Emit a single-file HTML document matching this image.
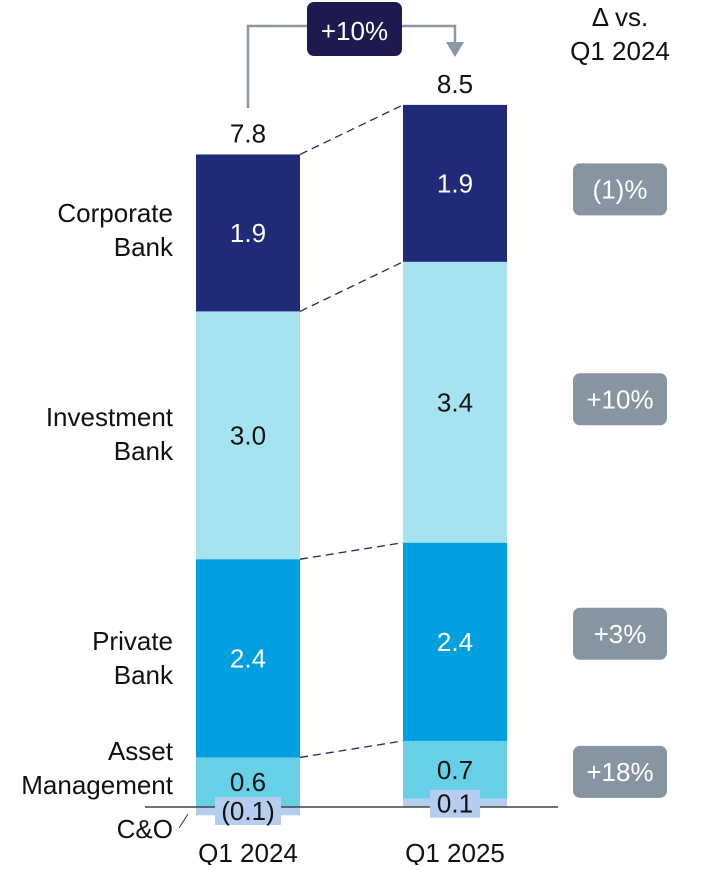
<!DOCTYPE html>
<html><head><meta charset="utf-8"><style>
body{margin:0;background:#fff;}
svg text{font-family:"Liberation Sans",sans-serif;}
</style></head><body>
<svg id="chart" width="715" height="865" viewBox="0 0 715 865" xmlns="http://www.w3.org/2000/svg">
<g id="bars"></g>
<g id="links"></g>
<line x1="145" x2="558" y1="807" y2="807" stroke="#444" stroke-width="1.5"/>
<g id="labels"></g>
<g>
<path d="M248 108 V26 H455 V44" fill="none" stroke="#8c98a4" stroke-width="2.5"/>
<polygon points="446,42 464,42 455,57" fill="#8c98a4"/>
<rect x="307" y="2" width="95" height="54" rx="7" fill="#1c1a4f"/>
<text x="354.5" y="40" text-anchor="middle" font-size="26" fill="#fff">+10%</text>
</g>
<text x="620" y="26" text-anchor="middle" font-size="26" fill="#111">Δ vs.</text>
<text x="620" y="60" text-anchor="middle" font-size="26" fill="#111">Q1 2024</text>
<line x1="179" y1="828" x2="188" y2="814" stroke="#333" stroke-width="1"/>
</svg>
<script>
const periods=["Q1 2024","Q1 2025"];
const segments=["Asset Management","Private Bank","Investment Bank","Corporate Bank"];
const q2024=[0.6,2.4,3.0,1.9];
const q2025=[0.7,2.4,3.4,1.9];
const co=[-0.1,0.1];
const totals=[7.8,8.5];
const deltas=["+18%","+3%","+10%","(1)%"];
const colors=["#66d0e6","#009fe0","#a6e3f0","#202a78"];
const textColors=["#111","#fff","#111","#fff"];
const ns="http://www.w3.org/2000/svg";
const base=807, scale=82.6, barW=104, barX=[196,403];
const y=v=>base-v*scale;
function mk(tag,attrs,parent,txt){const e=document.createElementNS(ns,tag);for(const k in attrs)e.setAttribute(k,attrs[k]);if(txt!==undefined)e.textContent=txt;parent.appendChild(e);return e;}
const bars=document.getElementById('bars'),links=document.getElementById('links'),labels=document.getElementById('labels');
const series=[q2024,q2025];
const tops=[[],[]];
series.forEach((vals,p)=>{
  const x=barX[p];
  const c=co[p];
  const cy0=Math.min(y(0),y(c)), ch=Math.abs(y(c)-y(0));
  const r=mk('rect',{x:x,y:cy0,width:barW,height:ch,fill:"#b5cdef"},bars);
  
  
  let cum=Math.max(c,0);
  vals.forEach((v,i)=>{
    const r=mk('rect',{x:x,y:y(cum+v),width:barW,height:v*scale,fill:colors[i]},bars);
    
    
    const t=mk('text',{x:x+barW/2,y:y(cum+v/2)+9,'text-anchor':'middle','font-size':26,fill:textColors[i]},labels,v.toFixed(1));
    
    
    cum+=v; tops[p].push(cum);
  });
  const tt=mk('text',{x:x+barW/2,y:y(cum)-12,'text-anchor':'middle','font-size':26,fill:'#111'},labels,totals[p].toFixed(1));
  
  
  const lab=c<0?"("+Math.abs(c).toFixed(1)+")":c.toFixed(1);
  const bw=c<0?66:50, by=c<0?y(0)-10:y(c)-9;
  const b=mk('rect',{x:x+barW/2-bw/2,y:by,width:bw,height:28,fill:"#b5cdef"},labels);
  
  
  const ct=mk('text',{x:x+barW/2,y:by+23,'text-anchor':'middle','font-size':26,fill:'#111'},labels,lab);
  
  
  const xl=mk('text',{x:x+barW/2,y:862,'text-anchor':'middle','font-size':26,fill:'#111'},labels,periods[p]);
  
  
});
for(let i=0;i<4;i++){
  const l=mk('line',{x1:barX[0]+barW,y1:y(tops[0][i]),x2:barX[1],y2:y(tops[1][i]),stroke:'#202a60','stroke-width':1.3,'stroke-dasharray':'8,5'},links);
  
  
}
const names=[["Asset","Management"],["Private","Bank"],["Investment","Bank"],["Corporate","Bank"]];
const nameY=[760,650,426,222];
names.forEach((n,i)=>{
  n.forEach((s,j)=>{
    const t=mk('text',{x:173,y:nameY[i]+j*34,'text-anchor':'end','font-size':26,fill:'#111'},labels,s);
    
    
  });
});
const cl=mk('text',{x:173,y:838,'text-anchor':'end','font-size':26,fill:'#111'},labels,"C&O");


let cum=Math.max(co[1],0);
const badgeShift=[2,-8,-3,6];
q2025.forEach((v,i)=>{
  const cy=y(cum+v/2)+badgeShift[i]; cum+=v;
  const r=mk('rect',{x:573,y:cy-26,width:94,height:52,rx:7,fill:'#8795a3'},labels);
  
  
  const t=mk('text',{x:620,y:cy+9,'text-anchor':'middle','font-size':26,fill:'#fff'},labels,deltas[i]);
  
  
});
</script>
</body></html>
